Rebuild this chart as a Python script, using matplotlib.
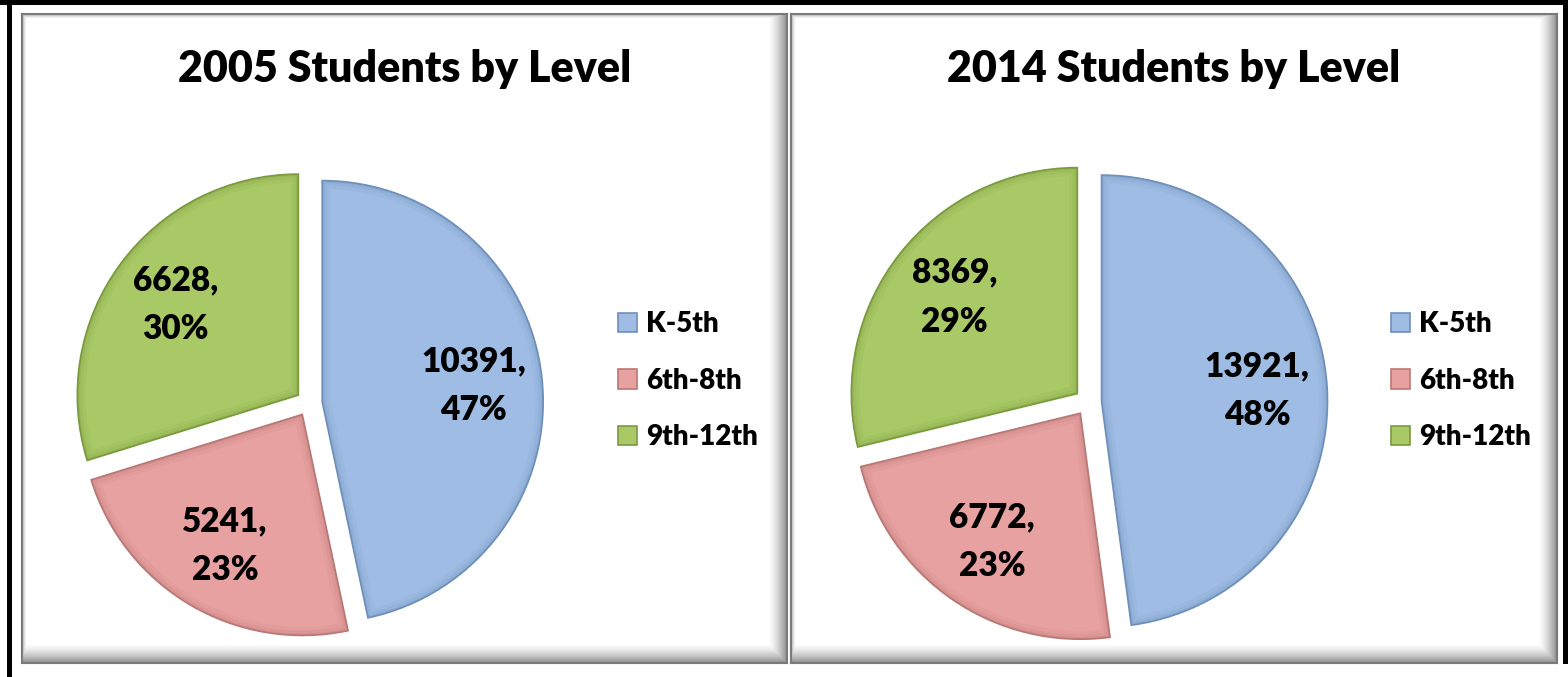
import matplotlib
matplotlib.use("Agg")
import matplotlib.pyplot as plt
from matplotlib.patches import Wedge
import numpy as np

# data
levels = ["K-5th", "6th-8th", "9th-12th"]
years = ["2005", "2014"]
students_2005 = [10391, 5241, 6628]
students_2014 = [13921, 6772, 8369]
pct_2005 = [47, 23, 30]
pct_2014 = [48, 23, 29]

colors = ["#9fbde4", "#e6a1a0", "#a9c866"]
edge_colors = ["#6f8fbb", "#b97776", "#7a9a3e"]

W, H = 1568, 677
FONT = "Lato"
WEIGHT = "heavy"

fig = plt.figure(figsize=(W / 100, H / 100), dpi=100)
fig.patch.set_facecolor("white")


def px_axes(x0, y0, x1, y1, **kw):
    """axes from pixel box (top-left origin)"""
    return fig.add_axes([x0 / W, 1 - y1 / H, (x1 - x0) / W, (y1 - y0) / H], **kw)


def bevel_panel(x0, y0, x1, y1):
    """white panel with a grey bevelled edge"""
    ax = px_axes(x0, y0, x1, y1)
    w, h = int(x1 - x0), int(y1 - y0)
    xs = np.arange(w)[None, :] + 0.5
    ys = np.arange(h)[:, None] + 0.5
    shade = np.ones((h, w))
    for d, bw, depth in [(xs, 5, 0.35), (ys, 5, 0.35),
                         (w - xs, 19, 0.45), (h - ys, 20, 0.45)]:
        shade = np.minimum(shade, 1 - depth * np.clip(1 - d / bw, 0, 1) ** 1.5)
    ax.imshow(shade, cmap="gray", vmin=0, vmax=1, aspect="auto",
              interpolation="bilinear", extent=[0, w, h, 0])
    ax.set_xlim(0, w)
    ax.set_ylim(h, 0)
    for s in ax.spines.values():
        s.set_color("#7a7a7a")
        s.set_linewidth(1.5)
    ax.set_xticks([])
    ax.set_yticks([])
    return ax


# outer black frame
frame = px_axes(0, 0, W, H)
frame.set_xlim(0, W)
frame.set_ylim(H, 0)
frame.axis("off")
frame.fill_between([7, 12], 0, H, color="black", lw=0)
frame.fill_between([0, W], 0, 5, color="black", lw=0)
frame.fill_between([1563, W], 0, 664, color="black", lw=0)

panels = [(22, 14, 787, 663), (791, 14, 1557, 663)]
centers = [(309, 403), (1088, 402)]
radii = [221, 226]
legend_x = [618, 1391]
all_values = [students_2005, students_2014]
all_pcts = [pct_2005, pct_2014]

for i in range(2):
    x0, y0, x1, y1 = panels[i]
    bevel_panel(x0, y0, x1, y1)

    # title
    fig.text(((x0 + x1) / 2) / W, 1 - 82 / H, years[i] + " Students by Level",
             ha="center", va="baseline", fontsize=31, fontweight=WEIGHT,
             family=FONT, color="black")

    cx, cy = centers[i]
    r = radii[i]
    s = 1.35
    ax = px_axes(cx - r * s, cy - r * s, cx + r * s, cy + r * s)

    vals = all_values[i]
    lbls = [str(v) + ",\n" + str(p) + "%" for v, p in zip(vals, all_pcts[i])]
    it = iter(lbls)
    wedges, texts, autotexts = ax.pie(
        vals, colors=colors, startangle=90, counterclock=False,
        explode=[0.06] * 3, radius=1, pctdistance=0.69,
        autopct=lambda p: next(it),
        wedgeprops=dict(linewidth=1.2, edgecolor="none"))
    # pie() resets the limits, so set them afterwards
    ax.set_xlim(-s, s)
    ax.set_ylim(-s, s)
    ax.set_aspect("equal")
    ax.axis("off")

    # soft inner bevel along each slice edge
    for w, ec in zip(wedges, edge_colors):
        w.set_edgecolor(ec)
        for lw, a in [(12, 0.10), (7, 0.14), (3, 0.25)]:
            rim = Wedge(w.center, w.r, w.theta1, w.theta2, facecolor="none",
                        edgecolor=ec, linewidth=lw, alpha=a)
            ax.add_patch(rim)
            rim.set_clip_path(w)

    for t in autotexts:
        t.set_fontsize(24)
        t.set_fontweight(WEIGHT)
        t.set_family(FONT)
        t.set_linespacing(1.65)
        t.set_zorder(5)

    leg = fig.legend(wedges, levels, loc="upper left",
                     bbox_to_anchor=(legend_x[i] / W, 1 - 311 / H),
                     frameon=False, borderpad=0, borderaxespad=0,
                     handlelength=0.7, handleheight=0.7, handletextpad=0.3,
                     labelspacing=1.1,
                     prop=dict(family=FONT, weight=WEIGHT, size=20))

fig.savefig("out.png", dpi=100)
